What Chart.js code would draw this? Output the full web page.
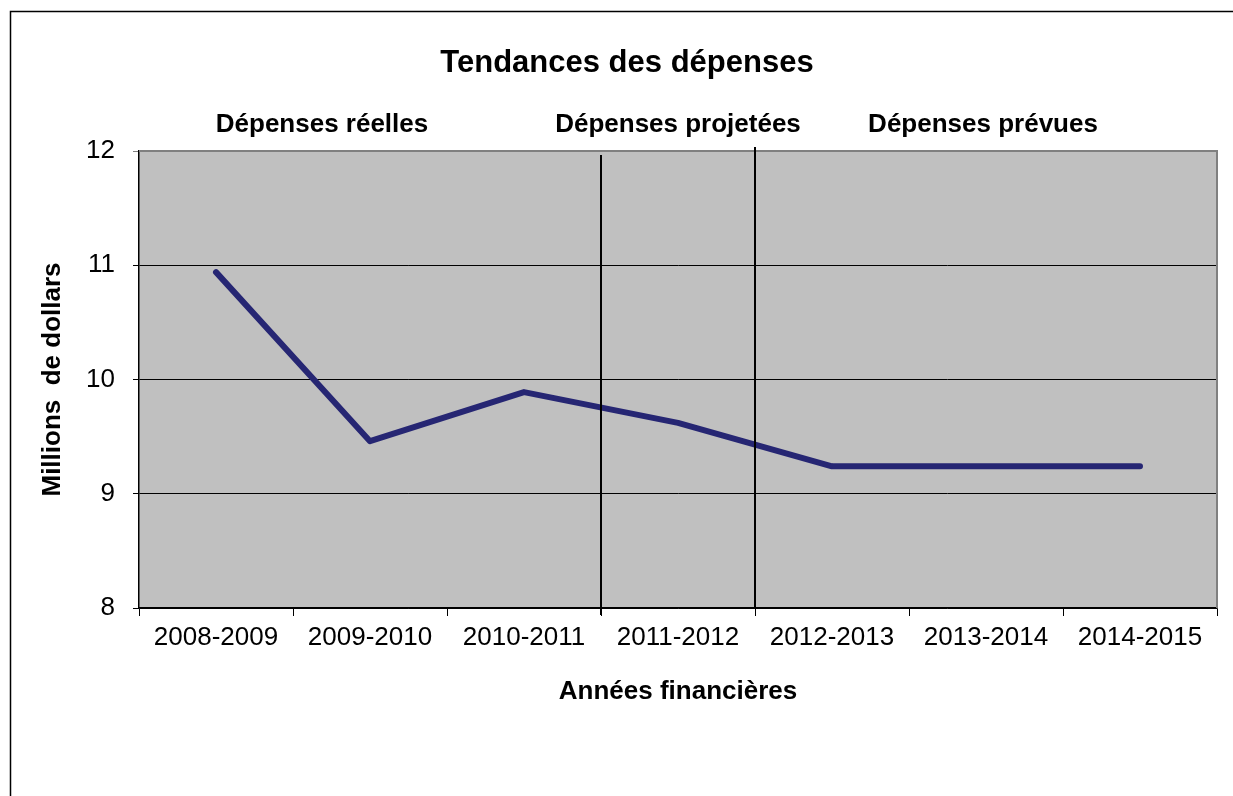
<!DOCTYPE html>
<html>
<head>
<meta charset="utf-8">
<script src="https://cdn.jsdelivr.net/npm/chart.js@4"></script>
<style>
  html, body { margin: 0; padding: 0; background: #fff; }
  #wrap { width: 1233px; height: 796px; }
</style>
</head>
<body>
<div id="wrap"><canvas id="myChart" width="1233" height="796"></canvas></div>
<script>
// data
const years = ["2008-2009", "2009-2010", "2010-2011", "2011-2012", "2012-2013", "2013-2014", "2014-2015"];
const spending = [10.94, 9.46, 9.89, 9.62, 9.24, 9.24, 9.24];
const sectionLabels = ["Dépenses réelles", "Dépenses projetées", "Dépenses prévues"];
const chartTitle = "Tendances des dépenses";
const xTitle = "Années financières";
const yTitle = "Millions  de dollars";

const FONT = "'Liberation Sans', Arial, sans-serif";

// frame, grey plot background, section dividers and headings
const decorPlugin = {
  id: "decor",
  beforeDraw(chart) {
    const { ctx, chartArea } = chart;
    ctx.save();
    ctx.fillStyle = "#c0c0c0";
    ctx.fillRect(chartArea.left, chartArea.top, chartArea.right - chartArea.left, chartArea.bottom - chartArea.top);
    // outer frame (left and top only)
    ctx.strokeStyle = "#000";
    ctx.lineWidth = 1.5;
    ctx.beginPath();
    ctx.moveTo(10.5, 800);
    ctx.lineTo(10.5, 11.5);
    ctx.lineTo(1240, 11.5);
    ctx.stroke();
    ctx.restore();
  },
  afterDatasetsDraw(chart) {
    const { ctx, chartArea } = chart;
    const x = chart.scales.x;
    ctx.save();
    // grey top/right border of the plot
    ctx.strokeStyle = "#808080";
    ctx.lineWidth = 2;
    ctx.beginPath();
    ctx.moveTo(chartArea.left, chartArea.top);
    ctx.lineTo(chartArea.right, chartArea.top);
    ctx.lineTo(chartArea.right, chartArea.bottom);
    ctx.stroke();
    // dividers between actual / projected / planned
    const d1 = (x.getPixelForValue(2) + x.getPixelForValue(3)) / 2;
    const d2 = (x.getPixelForValue(3) + x.getPixelForValue(4)) / 2;
    ctx.strokeStyle = "#000";
    ctx.lineWidth = 2;
    ctx.beginPath();
    ctx.moveTo(d1, chartArea.top + 4);
    ctx.lineTo(d1, chartArea.bottom + 7);
    ctx.moveTo(d2, chartArea.top - 4);
    ctx.lineTo(d2, chartArea.bottom);
    ctx.stroke();
    // headings
    ctx.fillStyle = "#000";
    ctx.textAlign = "center";
    ctx.textBaseline = "middle";
    ctx.font = "bold 31px " + FONT;
    ctx.fillText(chartTitle, 627, 63);
    ctx.font = "bold 26px " + FONT;
    const sx = [322, 678, 983];
    sectionLabels.forEach((t, i) => ctx.fillText(t, sx[i], 125));
    ctx.restore();
  }
};

const chartContext = document.getElementById("myChart").getContext("2d");

const chart = new Chart(chartContext, {
  type: "line",
  data: {
    labels: years,
    datasets: [
      {
        label: "Dépenses",
        data: spending,
        borderColor: "#262673",
        borderWidth: 6,
        borderCapStyle: "round",
        borderJoinStyle: "round",
        pointRadius: 0,
        tension: 0,
      },
    ],
  },
  options: {
    responsive: false,
    animation: false,
    layout: { padding: { top: 151, right: 16, left: 0, bottom: 0 } },
    plugins: {
      legend: { display: false },
      tooltip: { enabled: false },
    },
    scales: {
      x: {
        offset: true,
        grid: {
          offset: true,
          drawOnChartArea: false,
          color: "#000",
          tickLength: 8,
        },
        border: { color: "#000", width: 1.5 },
        ticks: {
          color: "#000",
          padding: 6,
          maxRotation: 0,
          autoSkip: false,
          font: { family: FONT, size: 26 },
        },
        title: {
          display: true,
          text: xTitle,
          color: "#000",
          font: { family: FONT, size: 26, weight: "bold" },
          padding: { top: 0, bottom: 89 },
        },
        afterFit(scale) {
          scale.height = 188;
        },
      },
      y: {
        min: 8,
        max: 12,
        grid: {
          color: (c) => (c.tick && c.tick.value === 12 ? "#808080" : "#000"),
          lineWidth: 1,
          tickLength: 6,
        },
        border: { color: "#000", width: 1.5 },
        ticks: {
          stepSize: 1,
          color: "#000",
          padding: 18,
          font: { family: FONT, size: 26 },
        },
        title: {
          display: true,
          text: yTitle,
          color: "#000",
          font: { family: FONT, size: 26, weight: "bold" },
          padding: { top: 37, bottom: 0 },
        },
        afterFit(scale) {
          scale.width = 139;
        },
      },
    },
  },
  plugins: [decorPlugin],
});
</script>
</body>
</html>
